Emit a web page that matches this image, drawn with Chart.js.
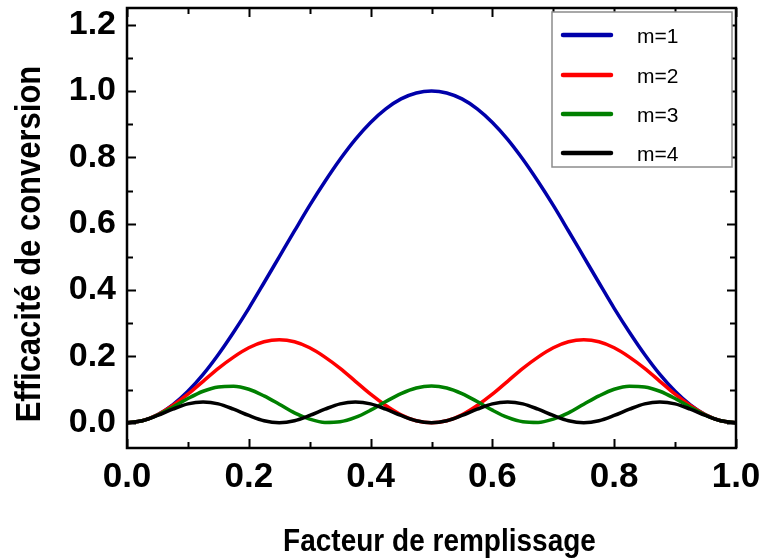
<!DOCTYPE html>
<html>
<head>
<meta charset="utf-8">
<script src="https://cdn.jsdelivr.net/npm/chart.js@4.4.1/dist/chart.umd.min.js"></script>
<style>
  html, body { margin: 0; padding: 0; background: #ffffff; }
  canvas { display: block; }
</style>
</head>
<body>
<canvas id="chart" width="763" height="558"></canvas>
<script>
// Filling factor (duty cycle) samples
const fillFactor = [
  0.000, 0.025, 0.050, 0.075, 0.100, 0.125, 0.150, 0.175, 0.200, 0.225,
  0.250, 0.275, 0.300, 0.325, 0.350, 0.375, 0.400, 0.425, 0.450, 0.475,
  0.500, 0.525, 0.550, 0.575, 0.600, 0.625, 0.650, 0.675, 0.700, 0.725,
  0.750, 0.775, 0.800, 0.825, 0.850, 0.875, 0.900, 0.925, 0.950, 0.975,
  1.000
];

// Conversion efficiency for each quasi-phase-matching order m
const effM1 = [
  0.000, 0.006, 0.024, 0.054, 0.095, 0.146, 0.206, 0.273, 0.345, 0.422,
  0.500, 0.578, 0.655, 0.727, 0.794, 0.854, 0.905, 0.946, 0.976, 0.994,
  1.000, 0.994, 0.976, 0.946, 0.905, 0.854, 0.794, 0.727, 0.655, 0.578,
  0.500, 0.422, 0.345, 0.273, 0.206, 0.146, 0.095, 0.054, 0.024, 0.006,
  0.000
];
const effM2 = [
  0.000, 0.006, 0.024, 0.052, 0.086, 0.125, 0.164, 0.198, 0.226, 0.244,
  0.250, 0.244, 0.226, 0.198, 0.164, 0.125, 0.086, 0.052, 0.024, 0.006,
  0.000, 0.006, 0.024, 0.052, 0.086, 0.125, 0.164, 0.198, 0.226, 0.244,
  0.250, 0.244, 0.226, 0.198, 0.164, 0.125, 0.086, 0.052, 0.024, 0.006,
  0.000
];
const effM3 = [
  0.000, 0.006, 0.023, 0.047, 0.073, 0.095, 0.108, 0.110, 0.101, 0.081,
  0.056, 0.030, 0.011, 0.001, 0.003, 0.016, 0.038, 0.064, 0.088, 0.105,
  0.111, 0.105, 0.088, 0.064, 0.038, 0.016, 0.003, 0.001, 0.011, 0.030,
  0.056, 0.081, 0.101, 0.110, 0.108, 0.095, 0.073, 0.047, 0.023, 0.006,
  0.000
];
const effM4 = [
  0.000, 0.006, 0.022, 0.041, 0.057, 0.0625, 0.057, 0.041, 0.022, 0.006,
  0.000, 0.006, 0.022, 0.041, 0.057, 0.0625, 0.057, 0.041, 0.022, 0.006,
  0.000, 0.006, 0.022, 0.041, 0.057, 0.0625, 0.057, 0.041, 0.022, 0.006,
  0.000, 0.006, 0.022, 0.041, 0.057, 0.0625, 0.057, 0.041, 0.022, 0.006,
  0.000
];

const seriesLabels = ['m=1', 'm=2', 'm=3', 'm=4'];
const seriesColors = ['#0000aa', '#ff0000', '#008000', '#000000'];

const xTickValues = [0.0, 0.2, 0.4, 0.6, 0.8, 1.0];
const yTickValues = [0.0, 0.2, 0.4, 0.6, 0.8, 1.0, 1.2];

const xTitle = 'Facteur de remplissage';
const yTitle = 'Efficacité de conversion';

const FONT = '"Liberation Sans", Arial, Helvetica, sans-serif';

function toPoints(values) {
  return values.map((v, i) => ({ x: fillFactor[i], y: v }));
}

const seriesValues = [effM1, effM2, effM3, effM4];
const datasets = seriesValues.map((vals, i) => ({
  label: seriesLabels[i],
  data: toPoints(vals),
  borderColor: seriesColors[i],
  backgroundColor: seriesColors[i],
  borderWidth: 3.5,
  pointRadius: 0,
  fill: false,
  cubicInterpolationMode: 'monotone',
  order: seriesValues.length - 1 - i   // higher orders painted on top
}));

// Closed frame with inward major/minor ticks on all four sides
const framePlugin = {
  id: 'frame',
  afterDatasetsDraw(chart) {
    const { ctx, chartArea: a, scales: { x, y } } = chart;
    ctx.save();
    ctx.strokeStyle = '#000000';
    ctx.lineCap = 'butt';

    const withMinors = (vals) => {
      const out = [];
      vals.forEach((v, i) => {
        out.push([v, 9]);
        if (i < vals.length - 1) out.push([(v + vals[i + 1]) / 2, 6]);
      });
      return out;
    };

    ctx.lineWidth = 2;
    ctx.beginPath();
    withMinors(xTickValues).forEach(([v, len]) => {
      const px = Math.round(x.getPixelForValue(v)) + 0.5;
      ctx.moveTo(px, a.bottom); ctx.lineTo(px, a.bottom - len);
      ctx.moveTo(px, a.top);    ctx.lineTo(px, a.top + len);
    });
    withMinors(yTickValues).forEach(([v, len]) => {
      const py = Math.round(y.getPixelForValue(v)) + 0.5;
      ctx.moveTo(a.left, py);  ctx.lineTo(a.left + len, py);
      ctx.moveTo(a.right, py); ctx.lineTo(a.right - len, py);
    });
    ctx.stroke();

    ctx.lineWidth = 2.5;
    ctx.strokeRect(a.left, a.top, a.right - a.left, a.bottom - a.top);
    ctx.restore();
  }
};

// Boxed legend in the upper right corner of the plot
const boxLegendPlugin = {
  id: 'boxLegend',
  afterDraw(chart) {
    const { ctx } = chart;
    const box = { left: 552, top: 12, right: 732, bottom: 167 };
    const rowY = [35, 75, 114, 153];
    ctx.save();
    ctx.fillStyle = '#ffffff';
    ctx.fillRect(box.left, box.top, box.right - box.left, box.bottom - box.top);
    ctx.strokeStyle = '#8c8c8c';
    ctx.lineWidth = 1.5;
    ctx.strokeRect(box.left, box.top, box.right - box.left, box.bottom - box.top);

    chart.data.datasets.forEach((ds, i) => {
      const yy = rowY[i];
      ctx.strokeStyle = ds.borderColor;
      ctx.lineWidth = 4.5;
      ctx.lineCap = 'round';
      ctx.beginPath();
      ctx.moveTo(563, yy);
      ctx.lineTo(611, yy);
      ctx.stroke();

      ctx.fillStyle = '#000000';
      ctx.font = '21px ' + FONT;
      ctx.textAlign = 'left';
      ctx.textBaseline = 'middle';
      ctx.fillText(ds.label, 637, yy + 2);
    });
    ctx.restore();
  }
};

// Axis titles (slightly tall lettering)
const axisTitlePlugin = {
  id: 'axisTitles',
  afterDraw(chart) {
    const { ctx, chartArea: a } = chart;
    ctx.save();
    ctx.fillStyle = '#000000';
    ctx.textAlign = 'center';
    ctx.textBaseline = 'alphabetic';

    ctx.save();
    ctx.translate((a.left + a.right) / 2 + 8, 551);
    ctx.scale(1, 1.1);
    ctx.font = 'bold 28px ' + FONT;
    ctx.fillText(xTitle, 0, 0);
    ctx.restore();

    ctx.save();
    ctx.translate(40, (a.top + a.bottom) / 2 + 16);
    ctx.rotate(-Math.PI / 2);
    ctx.scale(1, 1.12);
    ctx.font = 'bold 31px ' + FONT;
    ctx.fillText(yTitle, 0, 0);
    ctx.restore();

    ctx.restore();
  }
};

new Chart(document.getElementById('chart'), {
  type: 'line',
  data: { datasets },
  plugins: [framePlugin, boxLegendPlugin, axisTitlePlugin],
  options: {
    responsive: false,
    animation: false,
    events: [],
    layout: { padding: { top: 8, right: 27, bottom: 0, left: 0 } },
    plugins: {
      legend: { display: false },
      tooltip: { enabled: false },
      title: { display: false }
    },
    scales: {
      x: {
        type: 'linear',
        min: 0,
        max: 1,
        grid: { display: false, drawTicks: false },
        border: { display: false },
        afterFit(scale) {
          scale.height = 110;
          scale.paddingLeft = 0;
          scale.paddingRight = 0;
        },
        afterBuildTicks(scale) { scale.ticks = xTickValues.map(v => ({ value: v })); },
        ticks: {
          autoSkip: false,
          maxRotation: 0,
          padding: 8,
          color: '#000000',
          font: { family: FONT, size: 35, weight: 'bold' },
          callback: (v) => Number(v).toFixed(1)
        }
      },
      y: {
        type: 'linear',
        min: -0.076,
        max: 1.25,
        grid: { display: false, drawTicks: false },
        border: { display: false },
        afterFit(scale) {
          scale.width = 127;
          scale.paddingTop = 0;
          scale.paddingBottom = 0;
        },
        afterBuildTicks(scale) { scale.ticks = yTickValues.map(v => ({ value: v })); },
        ticks: {
          padding: 11,
          color: '#000000',
          font: { family: FONT, size: 34, weight: 'bold' },
          callback: (v) => Number(v).toFixed(1)
        }
      }
    }
  }
});
</script>
</body>
</html>
